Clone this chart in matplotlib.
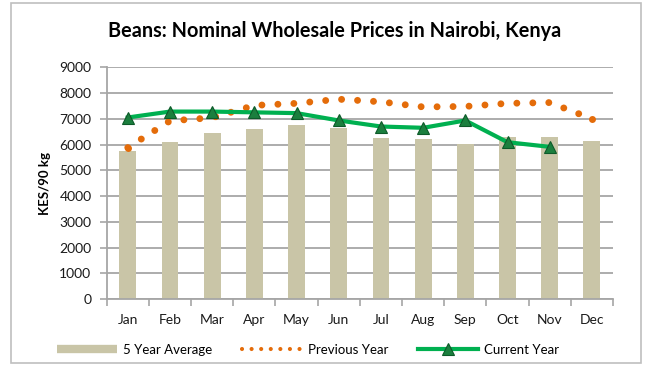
import matplotlib
matplotlib.use("Agg")
import matplotlib.pyplot as plt
from matplotlib.lines import Line2D
from matplotlib.patches import Rectangle
import numpy as np

plt.rcParams["font.family"] = ["Lato", "DejaVu Sans"]

MONTHS = ["Jan", "Feb", "Mar", "Apr", "May", "Jun", "Jul", "Aug", "Sep", "Oct", "Nov", "Dec"]
FIVE_YEAR_AVG = [5750, 6090, 6460, 6620, 6770, 6660, 6270, 6230, 6040, 6300, 6300, 6130]
PREVIOUS_YEAR = [5880, 6920, 7040, 7520, 7600, 7760, 7660, 7460, 7480, 7600, 7630, 7000]
CURRENT_YEAR = [7050, 7280, 7280, 7250, 7220, 6935, 6700, 6650, 6935, 6090, 5910]

BAR_COLOR = "#c9c5a7"
ORANGE = "#e46c0a"
GREEN = "#00b050"
GRID = "#a6a6a6"

fig = plt.figure(figsize=(6.53, 3.69), dpi=100, facecolor="white")
ax = fig.add_axes([106.7 / 653, 1 - 299 / 369, (613 - 106.7) / 653, (299 - 67.3) / 369])

x = np.arange(len(MONTHS))
ax.bar(x, FIVE_YEAR_AVG, width=0.40, color=BAR_COLOR, zorder=2)
# round-dot line; end markers so the series closes on its first/last value
ax.plot(x, PREVIOUS_YEAR, color=ORANGE, lw=5, linestyle=(0, (0.001, 2.3)),
        dash_capstyle="round", marker="o", ms=5, mew=0, markevery=[0, -1], zorder=3)
ax.plot(x[:len(CURRENT_YEAR)], CURRENT_YEAR, color=GREEN, lw=3, marker="^", ms=8,
        mfc="#1b7f3e", mec="#0d5a29", mew=0.8, zorder=4)

ax.set_xlim(-0.5, len(MONTHS) - 0.5)
ax.set_ylim(0, 9000)
ax.set_yticks(np.arange(0, 9001, 1000))
ax.set_xticks(x)
ax.set_xticklabels(MONTHS)
ax.set_xticks(np.arange(-0.5, len(MONTHS), 1.0), minor=True)
ax.tick_params(axis="x", which="major", length=0, pad=11, labelsize=10, labelcolor="#1a1a1a")
ax.tick_params(axis="x", which="minor", length=5, width=1.2, color=GRID, direction="out")
ax.tick_params(axis="y", length=5, width=1.2, color=GRID, pad=6, labelsize=10, labelcolor="#1a1a1a")
ax.yaxis.grid(True, color=GRID, lw=1.3, zorder=0)
ax.set_axisbelow(True)
for side in ("top", "right"):
    ax.spines[side].set_visible(False)
for side in ("left", "bottom"):
    ax.spines[side].set_color(GRID)
    ax.spines[side].set_linewidth(1.3)

ax.set_ylabel("KES/90 kg", fontsize=9.5, fontweight="bold", labelpad=6)
fig.text(0.513, 1 - 31 / 369, "Beans: Nominal Wholesale Prices in Nairobi, Kenya",
         ha="center", va="center", fontsize=14.3, fontweight="bold")

handles = [
    Line2D([0], [0], color=BAR_COLOR, lw=6, solid_capstyle="butt"),
    Line2D([0], [0], color=ORANGE, lw=3, linestyle=(0, (0.001, 2.3)), dash_capstyle="round"),
    Line2D([0], [0], color=GREEN, lw=3, marker="^", ms=8, mfc="#1b7f3e", mec="#0d5a29", mew=0.8),
]
fig.legend(handles, ["5 Year Average", "Previous Year", "Current Year"], ncol=3,
           loc="center", bbox_to_anchor=(308 / 653, 1 - 350 / 369), frameon=False,
           fontsize=9.5, handlelength=4.5, handletextpad=0.45, columnspacing=2.3)

# outer chart border
fig.patches.append(Rectangle((11 / 653, 1 - 363 / 369), 630 / 653, 360 / 369,
                             transform=fig.transFigure, fill=False, edgecolor="#bfbfbf", lw=1.2))

fig.savefig("out.png", dpi=100, facecolor="white")
